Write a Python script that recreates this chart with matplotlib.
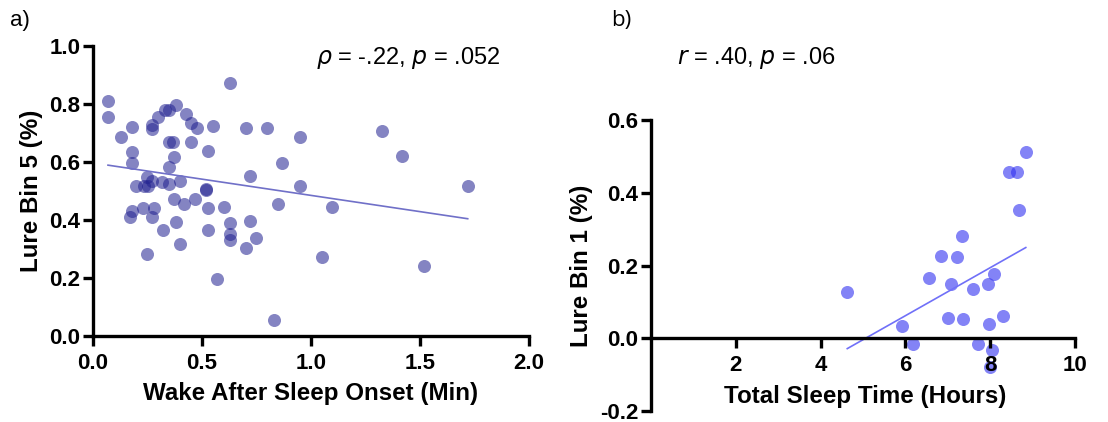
import numpy as np
import matplotlib
matplotlib.use("Agg")
import matplotlib.pyplot as plt

plt.rcParams["font.family"] = ["Liberation Sans", "DejaVu Sans"]

# a) WASO vs Lure Bin 5
waso = [0.069, 0.069, 0.130, 0.179, 0.179, 0.179, 0.197, 0.179, 0.168, 0.229,
        0.248, 0.232, 0.251, 0.248, 0.269, 0.269, 0.269, 0.300, 0.271, 0.281,
        0.318, 0.320, 0.330, 0.350, 0.379, 0.349, 0.367, 0.370, 0.350, 0.350,
        0.401, 0.370, 0.379, 0.401, 0.419, 0.428, 0.450, 0.479, 0.450, 0.469,
        0.549, 0.529, 0.520, 0.520, 0.529, 0.529, 0.570, 0.599, 0.628, 0.628,
        0.628, 0.628, 0.700, 0.719, 0.719, 0.700, 0.749, 0.800, 0.829, 0.849,
        0.869, 0.948, 0.948, 1.049, 1.098, 1.327, 1.419, 1.520, 1.719]
lure5 = [0.811, 0.754, 0.687, 0.720, 0.634, 0.598, 0.518, 0.431, 0.409, 0.440,
         0.283, 0.518, 0.518, 0.549, 0.536, 0.728, 0.714, 0.756, 0.409, 0.440,
         0.532, 0.367, 0.779, 0.779, 0.797, 0.669, 0.669, 0.616, 0.584, 0.526,
         0.536, 0.474, 0.394, 0.316, 0.457, 0.766, 0.736, 0.717, 0.669, 0.471,
         0.726, 0.638, 0.507, 0.503, 0.440, 0.366, 0.197, 0.444, 0.874, 0.389,
         0.352, 0.331, 0.716, 0.553, 0.398, 0.305, 0.338, 0.717, 0.055, 0.457,
         0.597, 0.687, 0.518, 0.274, 0.444, 0.707, 0.621, 0.241, 0.518]
fit_a = (-0.112, 0.597)  # slope, intercept

# b) TST vs Lure Bin 1
tst = [4.63, 5.93, 6.18, 6.56, 6.83, 7.00, 7.08, 7.21, 7.33, 7.37, 7.59,
       7.71, 7.94, 7.97, 8.04, 8.00, 8.08, 8.30, 8.44, 8.63, 8.69, 8.84]
lure1 = [0.126, 0.035, -0.017, 0.166, 0.227, 0.055, 0.150, 0.223, 0.282, 0.052,
         0.135, -0.017, 0.150, 0.040, -0.031, -0.079, 0.177, 0.060, 0.458, 0.456,
         0.354, 0.513]
fit_b = (0.066, -0.334)

fig = plt.figure(figsize=(11.08, 4.22), dpi=100)
ax1 = fig.add_axes([0.0839, 0.2038, 0.3935, 0.687])
ax2 = fig.add_axes([0.5875, 0.026, 0.3827, 0.6896])

def style(ax):
    for s in ["top", "right"]:
        ax.spines[s].set_visible(False)
    for s in ["left", "bottom"]:
        ax.spines[s].set_linewidth(2.4)
    ax.tick_params(width=2.4, length=7, labelsize=16)
    ax.tick_params(axis="x", pad=5)
    ax.tick_params(axis="y", pad=2)
    for lab in ax.get_xticklabels() + ax.get_yticklabels():
        lab.set_fontweight("bold")

# panel a
ax1.scatter(waso, lure5, s=88, color="#202090", alpha=0.55, linewidths=0)
xa = np.array([min(waso), max(waso)])
ax1.plot(xa, fit_a[0] * xa + fit_a[1], color="#7070c8", lw=1.2)
ax1.set_xlim(0, 2.0)
ax1.set_ylim(0, 1.0)
ax1.set_xticks([0.0, 0.5, 1.0, 1.5, 2.0])
ax1.set_yticks([0.0, 0.2, 0.4, 0.6, 0.8, 1.0])
ax1.xaxis.set_major_formatter(matplotlib.ticker.FormatStrFormatter("%.1f"))
ax1.yaxis.set_major_formatter(matplotlib.ticker.FormatStrFormatter("%.1f"))
style(ax1)
ax1.set_xlabel("Wake After Sleep Onset (Min)", fontsize=17.4, fontweight="bold", labelpad=6)
ax1.set_ylabel("Lure Bin 5 (%)", fontsize=17.4, fontweight="bold", labelpad=5)
ax1.text(0.722, 0.959, r"$\it{\rho}$ = -.22, $\it{p}$ = .052", transform=ax1.transAxes,
         fontsize=17, ha="center", va="center")
fig.text(0.009, 0.952, "a)", fontsize=16, ha="left", va="center")

# panel b
ax2.scatter(tst, lure1, s=88, color="#3030f0", alpha=0.6, linewidths=0)
xb = np.array([min(tst), max(tst)])
ax2.plot(xb, fit_b[0] * xb + fit_b[1], color="#7070f8", lw=1.2)
ax2.set_xlim(0, 10)
ax2.set_ylim(-0.2, 0.6)
ax2.set_xticks([2, 4, 6, 8, 10])
ax2.set_yticks([-0.2, 0.0, 0.2, 0.4, 0.6])
ax2.yaxis.set_major_formatter(matplotlib.ticker.FormatStrFormatter("%.1f"))
ax2.spines["bottom"].set_position(("data", 0))
style(ax2)
ax2.set_xlabel("Total Sleep Time (Hours)", fontsize=17.4, fontweight="bold")
ax2.xaxis.set_label_coords(0.505, 0.09)
ax2.set_ylabel("Lure Bin 1 (%)", fontsize=17.4, fontweight="bold", labelpad=5)
ax2.text(0.248, 1.213, r"$\it{r}$ = .40, $\it{p}$ = .06", transform=ax2.transAxes,
         fontsize=17, ha="center", va="center")
fig.text(0.552, 0.952, "b)", fontsize=16, ha="left", va="center", family="Open Sans")

fig.savefig("out.png", dpi=100)
